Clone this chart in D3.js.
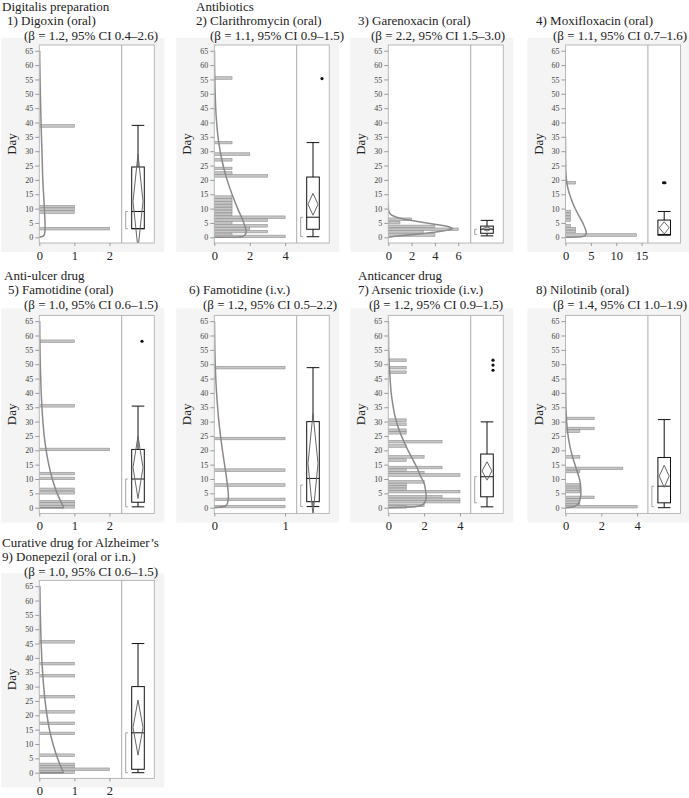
<!DOCTYPE html>
<html><head><meta charset="utf-8">
<script src="https://cdn.jsdelivr.net/npm/d3@7"></script>
<style>body{margin:0;background:#fff}svg{display:block}</style>
</head><body>
<svg id="c" width="689" height="798"></svg>
<script>
// ---------- DATA ----------
const groupLabels = ["Digitalis preparation","Antibiotics","","","Anti-ulcer drug","","Anticancer drug","","Curative drug for Alzheimer’s"];
const drugLabels = ["1) Digoxin (oral)","2) Clarithromycin (oral)","3) Garenoxacin (oral)","4) Moxifloxacin (oral)","5) Famotidine (oral)","6) Famotidine (i.v.)","7) Arsenic trioxide (i.v.)","8) Nilotinib (oral)","9) Donepezil (oral or i.n.)"];
const betaLabels = ["(β = 1.2, 95% CI 0.4–2.6)","(β = 1.1, 95% CI 0.9–1.5)","(β = 2.2, 95% CI 1.5–3.0)","(β = 1.1, 95% CI 0.7–1.6)","(β = 1.0, 95% CI 0.6–1.5)","(β = 1.2, 95% CI 0.5–2.2)","(β = 1.2, 95% CI 0.9–1.5)","(β = 1.4, 95% CI 1.0–1.9)","(β = 1.0, 95% CI 0.6–1.5)"];
const yTicks = [0,5,10,15,20,25,30,35,40,45,50,55,60,65];
const xMaxes = [2.35, 4.65, 7.07, 16.25, 2.35, 1.165, 4.6, 4.6, 2.35];
const xTickSets = [[0,1,2],[0,2,4],[0,2,4,6],[0,5,10,15],[0,1,2],[0,1],[0,2,4],[0,2,4],[0,1,2]];

// 1) Digoxin
const digoxinDays = [38.8, 10.7, 9.8, 8.8, 3];
const digoxinCounts = [1, 1, 1, 1, 2];
const digoxinCurveDays = [0,0.5,1,2,3.5,6,10,15,20,25,30,35,40,45,50,55,60,65];
const digoxinCurveCounts = [0,0.12,0.145,0.16,0.165,0.16,0.145,0.122,0.1,0.087,0.075,0.062,0.05,0.04,0.03,0.022,0.015,0.01];
const digoxinBox = [3, 3, 9, 24.5, 39];
const digoxinMean = [12.5, -4, 29];
const digoxinShortHalf = [3, 9];
const digoxinOutliers = [];

// 2) Clarithromycin
const clariDays = [55.5,33,29,27,24,22.4,21.4,14,13,12,11,10,9,8,7,6,5,4,3,2,1,0.3];
const clariCounts = [1,1,2,1,1,1,3,1,1,1,1,1,1,1,4,3,1,3,2,3,1,4];
const clariCurveDays = [0,0.05,0.3,1,2,3,6,10,15,20,25,30,35,40,45,50,55,60,65];
const clariCurveCounts = [0,1.3,1.6,1.75,1.8,1.77,1.6,1.32,1.0,0.72,0.5,0.33,0.21,0.13,0.08,0.05,0.03,0.015,0.01];
const clariBox = [0.2, 2.8, 7, 21, 33];
const clariMean = [11.5, 7.7, 15.3];
const clariShortHalf = [0.3, 7];
const clariOutliers = [55.3];

// 3) Garenoxacin
const gareDays = [6.3, 5.1, 3.8, 2.8, 1.9, 0.8];
const gareCounts = [2, 1, 4, 6, 3, 4];
const gareCurveDays = [0,0.5,1,1.5,2,2.5,3,3.5,4,4.5,5,5.5,6,6.5,7,7.5,8,9,10,12];
const gareCurveCounts = [0,1.0,2.2,3.4,4.4,5.1,5.5,5.3,4.8,4.1,3.3,2.5,1.8,1.2,0.7,0.4,0.2,0.05,0.01,0];
const gareBox = [0.5, 1.4, 2.8, 3.9, 5.9];
const gareMean = [2.9, 2.2, 3.6];
const gareShortHalf = [1, 2.8];
const gareOutliers = [];

// 4) Moxifloxacin
const moxiDays = [19, 9, 8, 7, 6, 4, 3, 2, 0.8];
const moxiCounts = [2, 1, 1, 1, 1, 1, 2, 2, 14];
const moxiCurveDays = [0,0.2,0.7,1.5,3,5,7,9,11,13,15,17,19,21,24,28,35];
const moxiCurveCounts = [0,3.2,3.9,4.1,3.9,3.4,2.8,2.2,1.65,1.2,0.8,0.48,0.27,0.14,0.05,0.015,0];
const moxiBox = [0.8, 0.8, 1, 6, 9];
const moxiMean = [3.3, 1.2, 5.4];
const moxiShortHalf = null;
const moxiOutliers = [19, 19];

// 5) Famotidine (oral)
const famoOralDays = [58, 35.5, 20.3, 11.9, 10.2, 6.4, 5.2, 2.1, 1.3, 0.3];
const famoOralCounts = [1, 1, 2, 1, 1, 1, 1, 1, 1, 1];
const famoOralCurveDays = [0,0,5,10,15,20,25,30,35,40,45,50,55,60,65];
const famoOralCurveCounts = [0,0.7,0.51,0.37,0.27,0.195,0.14,0.103,0.075,0.054,0.04,0.028,0.02,0.015,0.011];
const famoOralBox = [0.3, 1.9, 10, 20.3, 35.4];
const famoOralMean = [14, 3.2, 24.9];
const famoOralShortHalf = [0.3, 10];
const famoOralOutliers = [58];

// 6) Famotidine (i.v.)
const famoIvDays = [48.8, 24.1, 13.1, 7.9, 2.9, 0.4];
const famoIvCounts = [1, 1, 1, 1, 1, 1];
const famoIvCurveDays = [0,0.5,1,2,4,7,10,15,20,25,30,35,40,45,50,55,60,65];
const famoIvCurveCounts = [0,0.15,0.175,0.19,0.2,0.19,0.175,0.145,0.115,0.088,0.065,0.047,0.032,0.021,0.013,0.008,0.005,0.003];
const famoIvBox = [0.4, 2.1, 10.2, 30, 48.8];
const famoIvMean = [15.4, -2.5, 32.8];
const famoIvShortHalf = [0.4, 7.9];
const famoIvOutliers = [];

// 7) Arsenic trioxide
const arsenicDays = [51.4,48.8,47.2,30.5,29.1,27,26.1,23,21.5,17.7,16.6,14,13.1,12.2,11.4,9,8.1,7.3,6.4,5.6,3.8,2.9,2.1,0.8,0.3];
const arsenicCounts = [1,1,1,1,1,1,1,3,1,2,1,3,1,2,4,2,1,1,1,4,3,4,4,2,1];
const arsenicCurveDays = [0,0.3,1,2,3.5,6,8.5,11,14,17,20,24,28,32,36,40,45,50,55,60,65];
const arsenicCurveCounts = [0,1.5,1.9,2.05,2.12,2.08,2.0,1.8,1.6,1.35,1.1,0.8,0.55,0.37,0.25,0.16,0.1,0.05,0.02,0.01,0.005];
const arsenicBox = [0.3, 3.8, 10.8, 18.7, 29.9];
const arsenicMean = [12.8, 9.6, 16];
const arsenicShortHalf = [1.7, 10.8];
const arsenicOutliers = [51.4, 49.7, 47.9];

// 8) Nilotinib
const niloDays = [31.1,27.6,26.7,17.7,13.7,12.6,7.9,7.1,6.4,5.6,3.6,2.7,1.9,0.9,0.35];
const niloCounts = [1.6,1.6,0.8,0.8,3.2,0.8,0.8,0.8,0.8,0.8,1.6,0.8,0.8,0.8,4.0];
const niloCurveDays = [0,0.3,1,2,3.5,5,7,9.5,12,15,18,21,24,28,32,36,40,45,50];
const niloCurveCounts = [0,0.45,0.65,0.76,0.83,0.86,0.85,0.8,0.68,0.53,0.38,0.26,0.17,0.09,0.045,0.02,0.01,0.004,0];
const niloBox = [0, 1.7, 7.5, 17.5, 30.7];
const niloMean = [11, 7.1, 14.8];
const niloShortHalf = [0.35, 7.5];
const niloOutliers = [];

// 9) Donepezil
const donepDays = [45.6,38,33.8,26.5,21.2,17.2,13.7,6.1,2.9,2.1,1.2,0.2];
const donepCounts = [1,1,1,1,1,1,1,1,1,1,2,1];
const donepCurveDays = [0,0,5,10,15,20,25,30,35,40,45,50,55,60,65];
const donepCurveCounts = [0,0.69,0.52,0.39,0.29,0.22,0.165,0.125,0.094,0.07,0.053,0.04,0.03,0.022,0.017];
const donepBox = [0, 1.2, 13.9, 30, 45];
const donepMean = [15.7, 6.1, 25.3];
const donepShortHalf = [0, 13.9];
const donepOutliers = [];

// ---------- LAYOUT (not data) ----------
const colAxisX = [39.3, 214.3, 388.3, 565.5];
const rowY0 = [237.3, 507.7, 772.7];
const rowTitleBase = [10.5, 279.5, 546.5];
const titleX = [[2,7,24],[196,196,210],[0,358,371],[0,536,553],[4,8,24],[0,189,203],[358,358,369],[0,536,553],[2,2,24]];
const outlierJitter = [[],[9],[],[-0.7,0.7],[4],[],[6,6,6],[],[]];
const PX = 2.87, HIST_W = 82.4, BOX_W = 32.6;

const panels = [
  [digoxinDays,digoxinCounts,digoxinCurveDays,digoxinCurveCounts,digoxinBox,digoxinMean,digoxinShortHalf,digoxinOutliers],
  [clariDays,clariCounts,clariCurveDays,clariCurveCounts,clariBox,clariMean,clariShortHalf,clariOutliers],
  [gareDays,gareCounts,gareCurveDays,gareCurveCounts,gareBox,gareMean,gareShortHalf,gareOutliers],
  [moxiDays,moxiCounts,moxiCurveDays,moxiCurveCounts,moxiBox,moxiMean,moxiShortHalf,moxiOutliers],
  [famoOralDays,famoOralCounts,famoOralCurveDays,famoOralCurveCounts,famoOralBox,famoOralMean,famoOralShortHalf,famoOralOutliers],
  [famoIvDays,famoIvCounts,famoIvCurveDays,famoIvCurveCounts,famoIvBox,famoIvMean,famoIvShortHalf,famoIvOutliers],
  [arsenicDays,arsenicCounts,arsenicCurveDays,arsenicCurveCounts,arsenicBox,arsenicMean,arsenicShortHalf,arsenicOutliers],
  [niloDays,niloCounts,niloCurveDays,niloCurveCounts,niloBox,niloMean,niloShortHalf,niloOutliers],
  [donepDays,donepCounts,donepCurveDays,donepCurveCounts,donepBox,donepMean,donepShortHalf,donepOutliers]
].map((a,i)=>({days:a[0],counts:a[1],cDays:a[2],cCounts:a[3],box:a[4],mean:a[5],sh:a[6],out:a[7],
  group:groupLabels[i],drug:drugLabels[i],beta:betaLabels[i],xMax:xMaxes[i],xTicks:xTickSets[i]}));

// ---------- DRAW ----------
const SERIF = "'Liberation Serif','Times New Roman',Times,serif";
const svg = d3.select("#c");
const defs = svg.append("defs");
const bgLayer = svg.append("g");
const mainLayer = svg.append("g");

panels.forEach((p,i)=>{
  const col = i%4, row = Math.floor(i/4);
  const ax = colAxisX[col], y0 = rowY0[row];
  const y = d3.scaleLinear().domain([-2,67]).range([y0+2*PX, y0-67*PX]);
  const fTop = y(67), fBot = y(-2);
  const divX = ax+HIST_W, right = ax+HIST_W+BOX_W;
  const x = d3.scaleLinear().domain([0,p.xMax]).range([ax,divX]);

  // background
  bgLayer.append("rect").attr("x",ax-38).attr("y",fTop-7).attr("width",right+10-(ax-38)).attr("height",fBot+9-(fTop-7)).attr("fill","#f4f4f4");

  const g = mainLayer.append("g");
  // titles
  const tb = rowTitleBase[row];
  [p.group, p.drug, p.beta].forEach((t,k)=>{
    if(!t) return;
    g.append("text").attr("x",titleX[i][k]).attr("y",tb+k*14.5)
      .attr("font-family",SERIF).attr("font-size",13).attr("fill","#222").text(t);
  });

  // frame fill
  g.append("rect").attr("x",ax).attr("y",fTop).attr("width",right-ax).attr("height",fBot-fTop).attr("fill","#fff");

  defs.append("clipPath").attr("id","clip"+i).append("rect")
    .attr("x",ax).attr("y",fTop).attr("width",right-ax).attr("height",fBot-fTop);
  const cg = g.append("g").attr("clip-path","url(#clip"+i+")");

  // histogram bars
  const barH = 2.55;
  cg.selectAll("rect.bar").data(p.days.map((d,k)=>({d,c:p.counts[k]}))).join("rect")
    .attr("class","bar").attr("x",x(0)).attr("y",d=>y(d.d)-barH/2)
    .attr("width",d=>x(d.c)-x(0)).attr("height",barH)
    .attr("fill","#c6c6c6").attr("stroke","#8e8e8e").attr("stroke-width",0.6);

  // fitted curve: linear lead-in for repeated days, monotone (in y) afterwards
  const pts = p.cDays.map((d,k)=>[d,p.cCounts[k]]);
  let s = 0;
  while (s+1 < pts.length && pts[s+1][0] <= pts[s][0]) s++;
  const lin = d3.line().x(d=>x(d[1])).y(d=>y(d[0]));
  const smooth = d3.line().x(d=>x(d[1])).y(d=>y(d[0])).curve(d3.curveMonotoneY);
  if (s > 0) cg.append("path").datum(pts.slice(0,s+1)).attr("d",lin)
    .attr("fill","none").attr("stroke","#8a8a8a").attr("stroke-width",1.5);
  cg.append("path").datum(pts.slice(s)).attr("d",smooth)
    .attr("fill","none").attr("stroke","#8a8a8a").attr("stroke-width",1.5);

  // box plot
  const cx = divX + BOX_W/2, bw = 12.6, dw = 10;
  const [lo,q1,med,q3,hi] = p.box;
  const ink = "#111";
  cg.append("line").attr("x1",cx).attr("x2",cx).attr("y1",y(q3)).attr("y2",y(hi)).attr("stroke",ink);
  cg.append("line").attr("x1",cx).attr("x2",cx).attr("y1",y(lo)).attr("y2",y(q1)).attr("stroke",ink);
  [lo,hi].forEach(v=>cg.append("line").attr("x1",cx-bw/2).attr("x2",cx+bw/2).attr("y1",y(v)).attr("y2",y(v)).attr("stroke",ink));
  cg.append("rect").attr("x",cx-bw/2).attr("y",y(q3)).attr("width",bw).attr("height",y(q1)-y(q3))
    .attr("fill","none").attr("stroke",ink);
  cg.append("line").attr("x1",cx-bw/2).attr("x2",cx+bw/2).attr("y1",y(med)).attr("y2",y(med)).attr("stroke",ink);
  const [m,mlo,mhi] = p.mean;
  cg.append("path").attr("d",`M${cx},${y(mhi)}L${cx+dw/2},${y(m)}L${cx},${y(mlo)}L${cx-dw/2},${y(m)}Z`)
    .attr("fill","none").attr("stroke","#666").attr("stroke-width",1);
  if(p.sh){
    const bx = cx-12.3;
    cg.append("path").attr("d",`M${bx+2.2},${y(p.sh[1])}H${bx}V${y(p.sh[0])}H${bx+2.2}`)
      .attr("fill","none").attr("stroke","#999").attr("stroke-width",0.9);
  }
  p.out.forEach((v,k)=>{
    cg.append("circle").attr("cx",cx+(outlierJitter[i][k]||0)).attr("cy",y(v)).attr("r",1.6).attr("fill","#111");
  });

  // frame stroke & divider
  g.append("rect").attr("x",ax).attr("y",fTop).attr("width",right-ax).attr("height",fBot-fTop)
    .attr("fill","none").attr("stroke","#b8b8b8").attr("stroke-width",1);
  g.append("line").attr("x1",divX).attr("x2",divX).attr("y1",fTop).attr("y2",fBot).attr("stroke","#aaa");

  // y axis
  const ya = g.append("g").attr("transform",`translate(${ax},0)`)
    .call(d3.axisLeft(y).tickValues(yTicks).tickSize(4).tickPadding(2));
  ya.select(".domain").remove();
  ya.selectAll("line").attr("stroke","#999");
  ya.selectAll("text").attr("font-family",SERIF).attr("font-size",8).attr("fill","#444");

  // x axis
  const xa = g.append("g").attr("transform",`translate(0,${fBot})`)
    .call(d3.axisBottom(x).tickValues(p.xTicks).tickFormat(d3.format("d")).tickSize(3).tickPadding(5));
  xa.select(".domain").remove();
  xa.selectAll("line").attr("stroke","#999");
  xa.selectAll("text").attr("font-family",SERIF).attr("font-size",12.5).attr("fill","#222");

  // Day label
  g.append("text").attr("transform",`translate(${ax-23},${y(32.5)}) rotate(-90)`)
    .attr("text-anchor","middle").attr("font-family",SERIF).attr("font-size",13).attr("fill","#222").text("Day");
});
</script>
</body></html>
